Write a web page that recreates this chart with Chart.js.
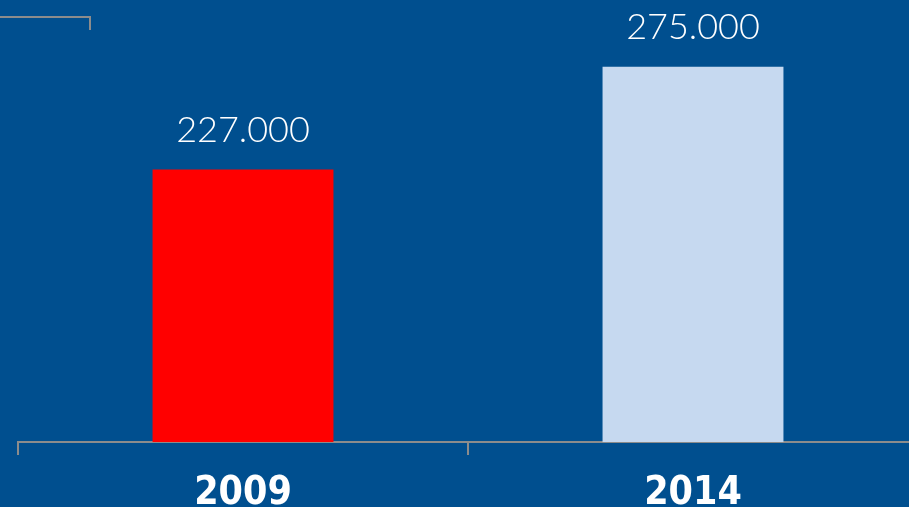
<!DOCTYPE html>
<html>
<head>
<meta charset="utf-8">
<script src="https://cdn.jsdelivr.net/npm/chart.js@4"></script>
<style>
  html, body { margin: 0; padding: 0; background: #004f8f; overflow: hidden; }
  #wrap { position: absolute; left: 0; top: 0; width: 918px; height: 507px; }
</style>
</head>
<body>
<div id="wrap"><canvas id="myChart"></canvas></div>
<script>
const years = ['2009', '2014']
const valores = [227000, 275000]
const colores = ['#ff0000', '#c6d9f0']

const formatear = (n) => String(n).replace(/\B(?=(\d{3})+(?!\d))/g, '.')

// etiquetas encima de cada barra
const etiquetas = {
  id: 'etiquetas',
  afterDatasetsDraw(chart) {
    const ctx = chart.ctx
    const meta = chart.getDatasetMeta(0)
    ctx.save()
    ctx.fillStyle = '#ffffff'
    ctx.font = '300 36px Lato, Inter, "Open Sans", sans-serif'
    ctx.textAlign = 'center'
    ctx.textBaseline = 'alphabetic'
    meta.data.forEach((bar, i) => {
      ctx.fillText(formatear(valores[i]), bar.x, bar.y - 28)
    })
    ctx.restore()
  }
}

// resto del eje del grafico de arriba
const esquina = {
  id: 'esquina',
  beforeDraw(chart) {
    const ctx = chart.ctx
    ctx.save()
    ctx.strokeStyle = '#8c8c8c'
    ctx.lineWidth = 2
    ctx.beginPath()
    ctx.moveTo(0, 17)
    ctx.lineTo(90, 17)
    ctx.lineTo(90, 30)
    ctx.stroke()
    ctx.restore()
  }
}

const ctx = document.getElementById('myChart').getContext('2d')
const myChart = new Chart(ctx, {
  type: 'bar',
  data: {
    labels: years,
    datasets: [
      {
        data: valores,
        backgroundColor: colores,
        borderWidth: 0,
        barPercentage: 0.402,
        categoryPercentage: 1,
      },
    ],
  },
  options: {
    responsive: true,
    maintainAspectRatio: false,
    animation: false,
    layout: { padding: { left: 18, top: 13, right: 0, bottom: -25 } },
    plugins: {
      legend: { display: false },
      tooltip: { enabled: false },
    },
    scales: {
      x: {
        offset: true,
        border: { display: true, color: '#8c8c8c', width: 2 },
        grid: {
          offset: true,
          drawOnChartArea: false,
          drawTicks: true,
          tickLength: 13,
          color: '#8c8c8c',
          lineWidth: 2,
        },
        ticks: {
          color: '#ffffff',
          padding: 19,
          font: { family: '"DejaVu Sans Condensed", "DejaVu Sans", sans-serif', size: 39, weight: 'bold', lineHeight: 1 },
        },
      },
      y: {
        display: false,
        min: 100000,
        max: 300000,
      },
    },
  },
  plugins: [etiquetas, esquina],
})
</script>
</body>
</html>
